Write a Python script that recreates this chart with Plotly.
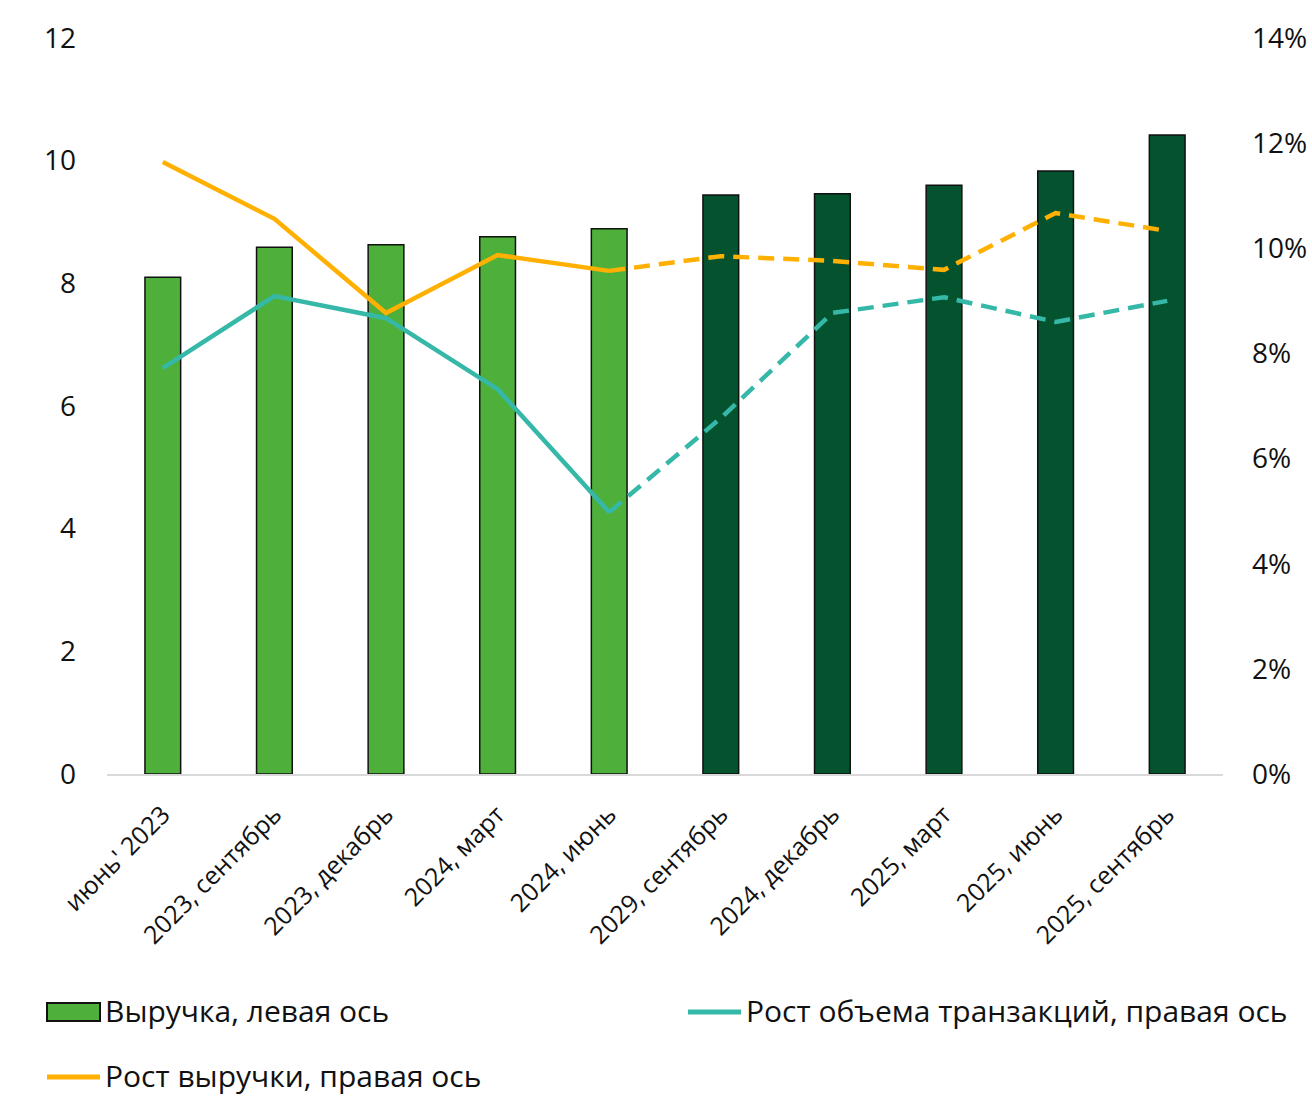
import plotly.graph_objects as go

# Quarterly labels
categories = [
    "июнь' 2023", "2023, сентябрь", "2023, декабрь", "2024, март", "2024, июнь",
    "2029, сентябрь", "2024, декабрь", "2025, март", "2025, июнь", "2025, сентябрь",
]

# Revenue (left axis)
revenue = [8.10, 8.59, 8.63, 8.76, 8.89, 9.44, 9.46, 9.60, 9.83, 10.42]

# Growth rates (right axis, share)
revenue_growth = [0.1164, 0.1056, 0.0877, 0.0987, 0.0957, 0.0985, 0.0976, 0.0959, 0.1067, 0.1033]
txn_growth = [0.0772, 0.0909, 0.0867, 0.0732, 0.0498, 0.0677, 0.0877, 0.0907, 0.0860, 0.0900]

# Legend captions
legend_labels = [
    "Выручка, левая ось",
    "Рост объема транзакций, правая ось",
    "Рост выручки, правая ось",
]

# Index where actuals end and forecast begins
split = 4

LIGHT_GREEN = "#4EAF3B"
DARK_GREEN = "#04532E"
ORANGE = "#FFB000"
TEAL = "#36B8A9"
FONT = "Open Sans"
TEXT = "#111111"
LW = 4.5
DASH = "16px,9px"

W, H = 1312, 1096
ML, MR, MT, MB = 107, 89, 38, 322
PW, PH = W - ML - MR, H - MT - MB


def px(xp):
    return (xp - ML) / PW


def py(yp):
    return (H - MB - yp) / PH


bar_colors = [LIGHT_GREEN if i <= split else DARK_GREEN for i in range(len(categories))]

fig = go.Figure()

fig.add_trace(go.Bar(
    x=categories, y=revenue, name=legend_labels[0],
    marker=dict(color=bar_colors, line=dict(color=TEXT, width=1.5)),
    yaxis="y",
))

# Transactions growth: solid actuals, dashed forecast
fig.add_trace(go.Scatter(
    x=categories[:split + 1], y=txn_growth[:split + 1], mode="lines",
    name=legend_labels[1], line=dict(color=TEAL, width=LW), yaxis="y2",
))
fig.add_trace(go.Scatter(
    x=categories[split:], y=txn_growth[split:], mode="lines",
    line=dict(color=TEAL, width=LW, dash=DASH), yaxis="y2",
))

# Revenue growth: solid actuals, dashed forecast
fig.add_trace(go.Scatter(
    x=categories[:split + 1], y=revenue_growth[:split + 1], mode="lines",
    name=legend_labels[2], line=dict(color=ORANGE, width=LW), yaxis="y2",
))
fig.add_trace(go.Scatter(
    x=categories[split:], y=revenue_growth[split:], mode="lines",
    line=dict(color=ORANGE, width=LW, dash=DASH), yaxis="y2",
))

# Legend drawn below the plot: symbols + captions
shapes = [
    dict(type="rect", xref="paper", yref="paper",
         x0=px(47), x1=px(100), y0=py(1021), y1=py(1003),
         fillcolor=LIGHT_GREEN, line=dict(color=TEXT, width=2)),
    dict(type="line", xref="paper", yref="paper",
         x0=px(688), x1=px(741), y0=py(1012), y1=py(1012),
         line=dict(color=TEAL, width=5)),
    dict(type="line", xref="paper", yref="paper",
         x0=px(47), x1=px(100), y0=py(1077), y1=py(1077),
         line=dict(color=ORANGE, width=5)),
]
legend_pos = [(103, 1011), (744, 1011), (103, 1075)]
annotations = [
    dict(text=t, x=px(xp), y=py(yp), xref="paper", yref="paper",
         xanchor="left", yanchor="middle", showarrow=False,
         font=dict(family=FONT, size=30, color=TEXT))
    for t, (xp, yp) in zip(legend_labels, legend_pos)
]

fig.update_layout(
    width=W, height=H,
    margin=dict(l=ML, r=MR, t=MT, b=MB),
    paper_bgcolor="white", plot_bgcolor="white",
    font=dict(family=FONT, size=28, color=TEXT),
    bargap=0.68,
    showlegend=False,
    shapes=shapes,
    annotations=annotations,
    xaxis=dict(
        tickangle=-45, tickfont=dict(size=25),
        showline=True, linecolor="#D9D9D9", linewidth=2,
        showgrid=False, ticks="", ticklabelstandoff=14, automargin=False,
    ),
    yaxis=dict(
        range=[0, 12], dtick=2, showgrid=False, zeroline=False,
        showline=False, ticks="", ticklabelstandoff=30, automargin=False,
        tickfont=dict(size=28),
    ),
    yaxis2=dict(
        range=[0, 0.14], dtick=0.02, tickformat=".0%", overlaying="y",
        side="right", showgrid=False, zeroline=False, showline=False,
        ticks="", ticklabelstandoff=28, automargin=False, tickfont=dict(size=28),
    ),
)

fig.write_html("out.html")
